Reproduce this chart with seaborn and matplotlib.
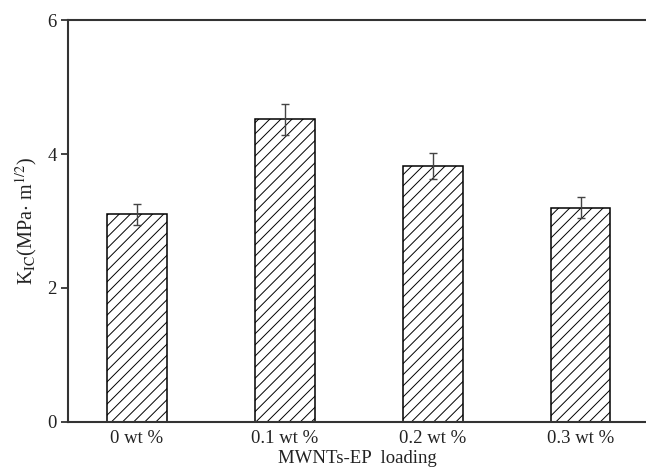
import matplotlib
matplotlib.use("Agg")
import matplotlib.pyplot as plt
import seaborn as sns
import pandas as pd

# Fracture toughness of epoxy vs. MWNTs-EP loading
loadings = ["0 wt %", "0.1 wt %", "0.2 wt %", "0.3 wt %"]
kic_mean = [3.10, 4.52, 3.82, 3.20]
kic_err = [0.16, 0.23, 0.19, 0.16]
y_ticks = [0, 2, 4, 6]

sns.set_style("ticks")
plt.rcParams["font.family"] = ["Liberation Serif", "DejaVu Serif"]
plt.rcParams["mathtext.fontset"] = "stix"
plt.rcParams["hatch.linewidth"] = 0.7
plt.rcParams["hatch.color"] = "#222222"

df = pd.DataFrame({"loading": loadings, "kic": kic_mean})

fig = plt.figure(figsize=(6.46, 4.68), dpi=100)
ax = fig.add_axes([68 / 646, 46 / 468, 1 - 68 / 646, 402 / 468])

sns.barplot(data=df, x="loading", y="kic", order=loadings, width=0.4,
            color="white", edgecolor="black", linewidth=1.1,
            errorbar=None, ax=ax)
for patch in ax.patches:
    patch.set_hatch("///")

xpos = list(range(len(loadings)))
ax.errorbar(xpos, kic_mean, yerr=kic_err, fmt="none", ecolor="#444444",
            elinewidth=1.0, capsize=3, capthick=1.0)

ax.set_xlim(-0.466, 3.44)
ax.set_ylim(0, 6)
ax.set_yticks(y_ticks)
ax.set_yticklabels([str(t) for t in y_ticks])

ax.tick_params(axis="y", direction="out", length=5, width=1.2,
               labelsize=13.5, pad=3, colors="#222222")
ax.tick_params(axis="x", length=0, labelsize=13.5, pad=6, colors="#222222")

ax.set_xlabel("MWNTs-EP  loading", fontsize=13.5, labelpad=2, color="#222222")
ax.set_ylabel(r"K$_{\rm IC}$(MPa$\cdot$ m$^{1/2}$)", fontsize=14.5,
              labelpad=6, color="#222222")

for side in ["left", "bottom", "top"]:
    ax.spines[side].set_linewidth(1.5)
    ax.spines[side].set_color("#333333")
ax.spines["right"].set_visible(False)

fig.savefig("out.png", dpi=100)
